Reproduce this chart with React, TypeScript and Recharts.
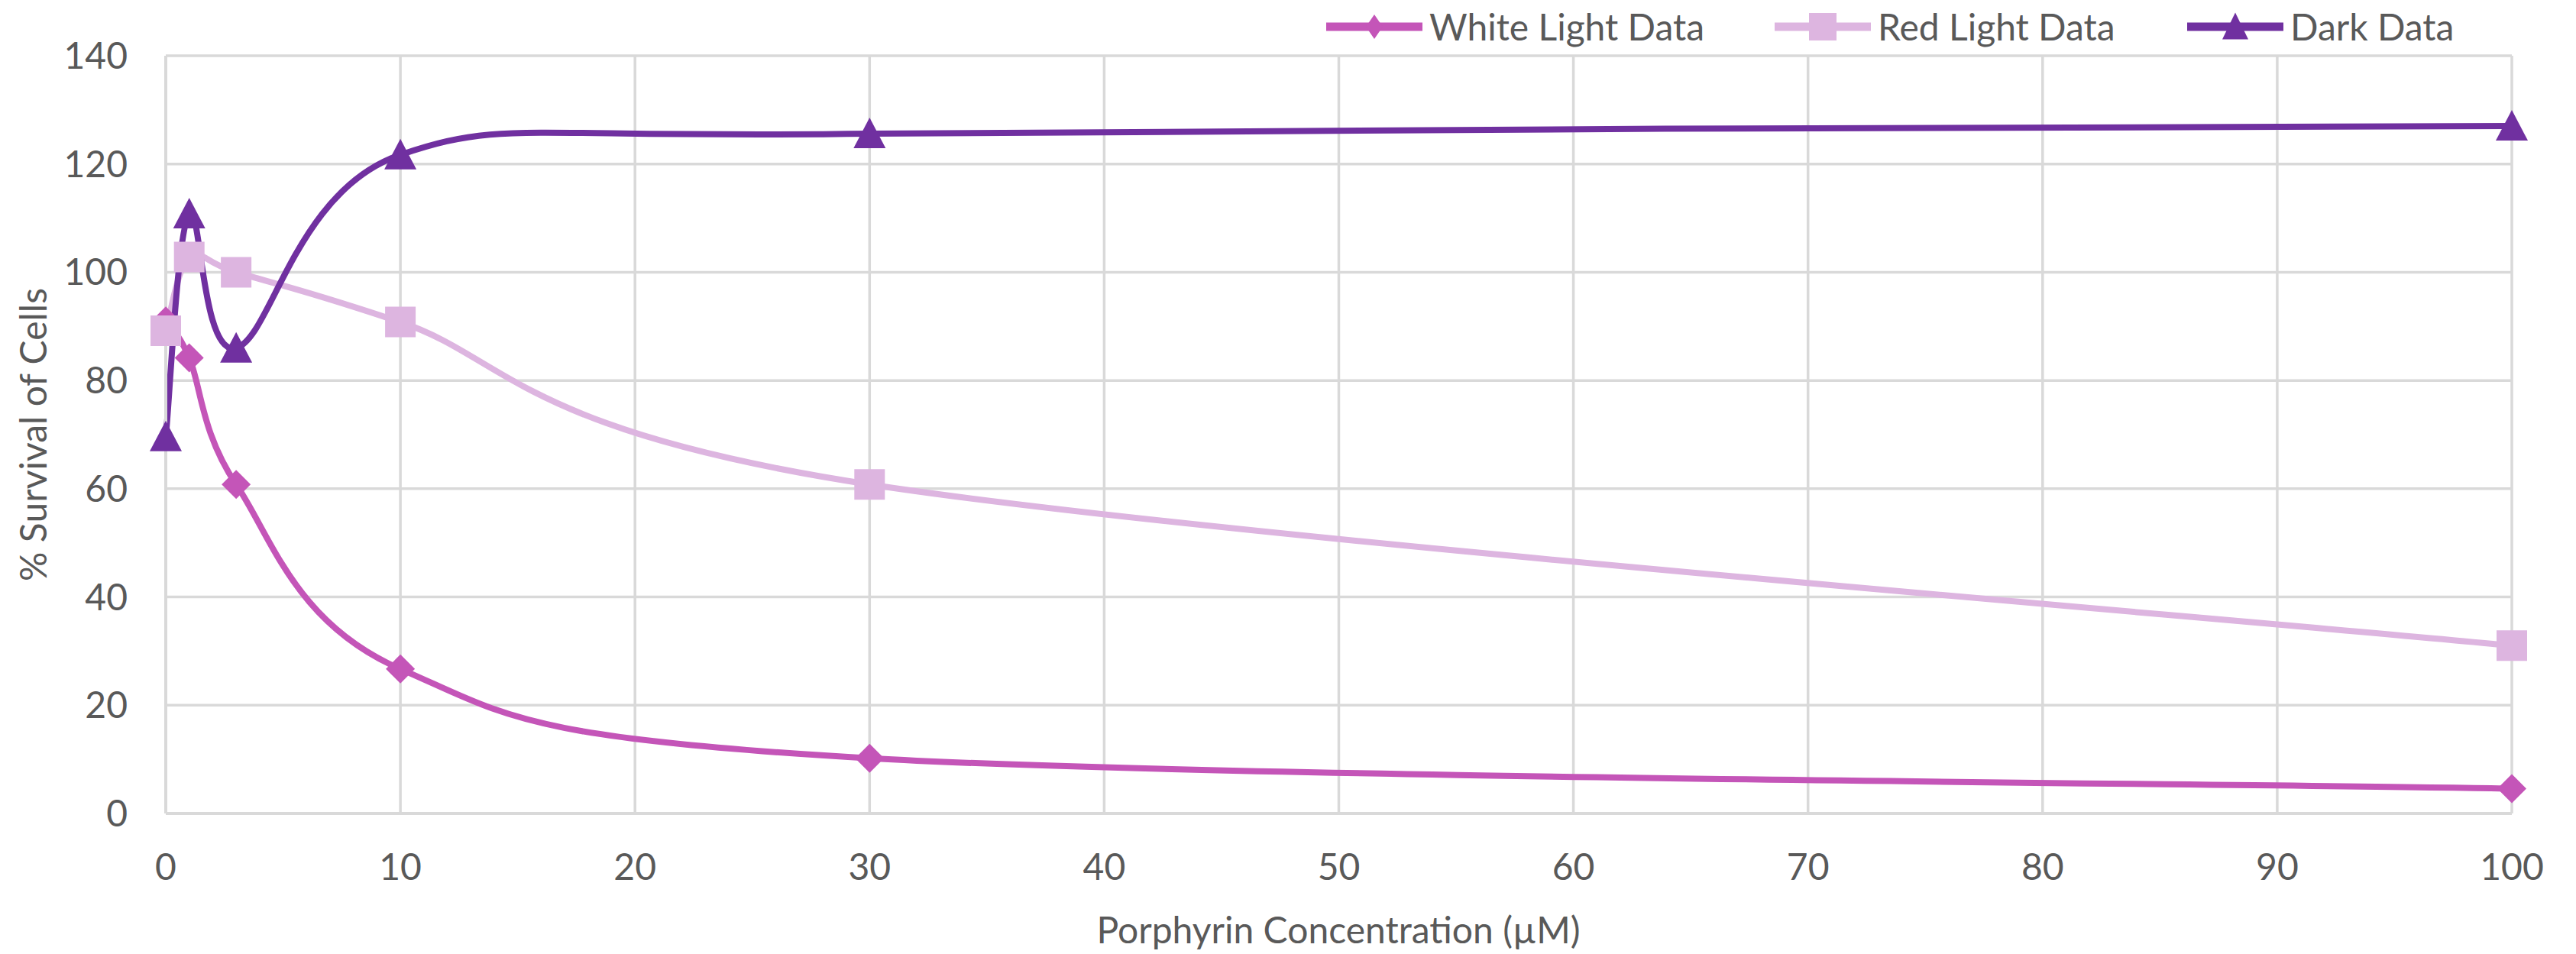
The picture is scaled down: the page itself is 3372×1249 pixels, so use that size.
import React from "react";
import {
  LineChart,
  Line,
  XAxis,
  YAxis,
  CartesianGrid,
  Legend,
  Label,
} from "recharts";

// concentrations (µM)
const concentrations = [0, 1, 3, 10, 30, 100];
const whiteLight = [91, 84.2, 60.8, 26.7, 10.2, 4.6];
const redLight = [89.2, 102.8, 100, 90.8, 60.8, 31];
const darkData = [69.6, 110.8, 86, 121.7, 125.6, 127];

const xTicks = [0, 10, 20, 30, 40, 50, 60, 70, 80, 90, 100];
const yTicks = [0, 20, 40, 60, 80, 100, 120, 140];

const series = [
  { key: "white", name: "White Light Data", color: "#C455B8", shape: "diamond" },
  { key: "red", name: "Red Light Data", color: "#DDB5E0", shape: "square" },
  { key: "dark", name: "Dark Data", color: "#7030A0", shape: "triangle" },
];

const data = concentrations.map((c, i) => ({
  conc: c,
  white: whiteLight[i],
  red: redLight[i],
  dark: darkData[i],
}));

const FONT = "Lato, 'Open Sans', sans-serif";
const FS = 48;
const TEXT = "#595959";
const GRID = "#D9D9D9";

// Excel-like smoothing (Catmull-Rom as cubic beziers)
const excelSmooth = (context: any) => {
  let pts: [number, number][] = [];
  return {
    areaStart() {},
    areaEnd() {},
    lineStart() {
      pts = [];
    },
    point(x: number, y: number) {
      pts.push([+x, +y]);
    },
    lineEnd() {
      if (!pts.length) return;
      context.moveTo(pts[0][0], pts[0][1]);
      for (let i = 0; i < pts.length - 1; i++) {
        const p0 = pts[Math.max(i - 1, 0)];
        const p1 = pts[i];
        const p2 = pts[i + 1];
        const p3 = pts[Math.min(i + 2, pts.length - 1)];
        context.bezierCurveTo(
          p1[0] + (p2[0] - p0[0]) / 6,
          p1[1] + (p2[1] - p0[1]) / 6,
          p2[0] - (p3[0] - p1[0]) / 6,
          p2[1] - (p3[1] - p1[1]) / 6,
          p2[0],
          p2[1]
        );
      }
    },
  };
};

function markerPath(shape: string, cx: number, cy: number, legend = false) {
  if (shape === "diamond") {
    const rx = legend ? 11 : 19;
    const ry = legend ? 16 : 19;
    return `M${cx},${cy - ry}L${cx + rx},${cy}L${cx},${cy + ry}L${cx - rx},${cy}Z`;
  }
  if (shape === "square") {
    const r = legend ? 18 : 20;
    return `M${cx - r},${cy - r}H${cx + r}V${cy + r}H${cx - r}Z`;
  }
  const w = legend ? 17 : 21;
  const h = legend ? 33 : 38;
  return `M${cx},${cy - h / 2 - 2}L${cx + w},${cy + h / 2}L${cx - w},${cy + h / 2}Z`;
}

const makeDot = (shape: string, color: string) => (p: any) => {
  if (p.cx == null || p.cy == null) return <g key={p.index} />;
  return <path key={p.index} d={markerPath(shape, p.cx, p.cy)} fill={color} stroke="none" />;
};

const legendLefts = [1736, 2323, 2863];

function LegendContent() {
  return (
    <div style={{ position: "relative", height: 70, fontFamily: FONT }}>
      {series.map((s, i) => (
        <div
          key={s.key}
          style={{
            position: "absolute",
            left: legendLefts[i],
            top: 0,
            display: "flex",
            alignItems: "center",
            height: 70,
          }}
        >
          <svg width={126} height={50} style={{ display: "block" }}>
            <line x1={0} y1={25} x2={126} y2={25} stroke={s.color} strokeWidth={11} />
            <path d={markerPath(s.shape, 63, 25, true)} fill={s.color} />
          </svg>
          <span
            style={{
              color: TEXT,
              fontSize: FS,
              lineHeight: "70px",
              marginLeft: 9,
              whiteSpace: "nowrap",
            }}
          >
            {s.name}
          </span>
        </div>
      ))}
    </div>
  );
}

export default function App() {
  return (
    <div style={{ position: "absolute", left: 0, top: 0, background: "#fff" }}>
      <LineChart
        width={3372}
        height={1249}
        data={data}
        margin={{ top: 73, right: 84, left: 0, bottom: 0 }}
      >
        <CartesianGrid stroke={GRID} strokeWidth={3.5} />
        <XAxis
          dataKey="conc"
          type="number"
          domain={[0, 100]}
          ticks={xTicks}
          height={184}
          axisLine={{ stroke: GRID, strokeWidth: 4 }}
          tickLine={false}
          tickSize={0}
          tickMargin={53}
          tick={{ fontSize: FS, fill: TEXT, fontFamily: FONT }}
        >
          <Label
            content={() => (
              <text
                x={1752}
                y={1235}
                textAnchor="middle"
                style={{ fontSize: FS, fill: TEXT, fontFamily: FONT }}
              >
                Porphyrin Concentration (µM)
              </text>
            )}
          />
        </XAxis>
        <YAxis
          type="number"
          domain={[0, 140]}
          ticks={yTicks}
          width={217}
          axisLine={{ stroke: GRID, strokeWidth: 4 }}
          tickLine={false}
          tickSize={0}
          tickMargin={50}
          tick={{ fontSize: FS, fill: TEXT, fontFamily: FONT }}
        >
          <Label
            content={() => (
              <text
                x={42}
                y={569}
                transform="rotate(-90 42 569)"
                textAnchor="middle"
                dominantBaseline="central"
                style={{ fontSize: FS, fill: TEXT, fontFamily: FONT }}
              >
                % Survival of Cells
              </text>
            )}
          />
        </YAxis>
        <Legend
          layout="horizontal"
          align="center"
          verticalAlign="middle"
          wrapperStyle={{ top: 0, left: 0, width: 3372, height: 70 }}
          content={() => <LegendContent />}
        />
        {series.map((s) => (
          <Line
            key={s.key}
            dataKey={s.key}
            name={s.name}
            type={excelSmooth as any}
            stroke={s.color}
            strokeWidth={8}
            dot={makeDot(s.shape, s.color)}
            activeDot={false}
            isAnimationActive={false}
          />
        ))}
      </LineChart>
    </div>
  );
}
